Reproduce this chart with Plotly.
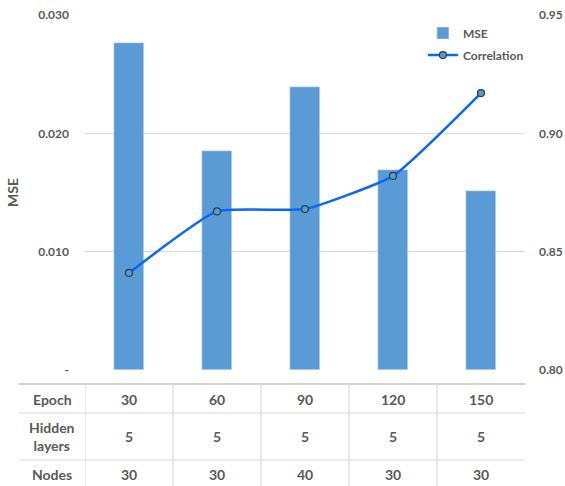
import plotly.graph_objects as go

# Training configurations and results
epochs = [30, 60, 90, 120, 150]
hidden_layers = [5, 5, 5, 5, 5]
nodes = [30, 30, 40, 30, 30]
mse = [0.0276, 0.0185, 0.0239, 0.0169, 0.0151]
correlation = [0.841, 0.867, 0.868, 0.882, 0.917]

mse_ticks = [0, 0.01, 0.02, 0.03]
mse_tick_text = ["-", "0.010", "0.020", "0.030"]
corr_ticks = [0.80, 0.85, 0.90, 0.95]
corr_tick_text = ["0.80", "0.85", "0.90", "0.95"]

FONT = "Lato"
TXT = "#595959"
GRID = "#d9d9d9"
BAR = "#5B9BD5"
LINE = "#0A66F7"

idx = list(range(len(epochs)))

fig = go.Figure()
fig.add_trace(go.Bar(x=idx, y=mse, name="MSE", marker_color=BAR,
                     width=0.33, yaxis="y", legendgroup="a"))
fig.add_trace(go.Scatter(x=idx, y=correlation, name="Correlation", yaxis="y2",
                         legendgroup="b", mode="lines+markers",
                         line=dict(color=LINE, width=2.5, shape="spline", smoothing=0.45),
                         marker=dict(size=7, color=BAR, line=dict(color="#2b3a4a", width=1.2))))

# Table beneath the chart
y_top, y_r1, y_r2, y_bot = -0.0394, -0.1211, -0.2535, -0.33
x_left = -0.15
shapes = []
shapes.append(dict(type="line", xref="paper", yref="paper", x0=x_left, x1=1.0,
                   y0=y_top, y1=y_top, line=dict(color="#a6a6a6", width=1.2)))
for yy in (y_r1, y_r2):
    shapes.append(dict(type="line", xref="paper", yref="paper", x0=x_left, x1=1.0,
                       y0=yy, y1=yy, line=dict(color=GRID, width=1.2)))
for i in range(len(epochs)):
    xv = i - 0.5
    shapes.append(dict(type="line", xref="x", yref="paper", x0=xv, x1=xv,
                       y0=y_top, y1=y_bot, line=dict(color=GRID, width=1.2)))

annotations = []
rows = [("Epoch", epochs, -0.0817), ("Hidden<br>layers", hidden_layers, -0.1887),
        ("Nodes", nodes, -0.293)]
for label, vals, yy in rows:
    annotations.append(dict(text=label, xref="paper", yref="paper", x=-0.075, y=yy,
                            showarrow=False,
                            font=dict(family=FONT, size=14, color=TXT, weight="bold"),
                            xanchor="center", yanchor="middle"))
    for i, v in enumerate(vals):
        annotations.append(dict(text=str(v), xref="x", yref="paper", x=i, y=yy,
                                showarrow=False,
                                font=dict(family=FONT, size=14, color=TXT, weight="bold"),
                                xanchor="center", yanchor="middle"))

fig.update_layout(
    width=565, height=486,
    margin=dict(l=85, r=40, t=15, b=116, autoexpand=False),
    paper_bgcolor="white", plot_bgcolor="white",
    font=dict(family=FONT, color=TXT, size=12, weight="bold"),
    bargap=0,
    showlegend=True,
    legend=dict(x=0.768, y=0.99, xanchor="left", yanchor="top",
                font=dict(family=FONT, size=12, color=TXT, weight="bold"),
                bgcolor="rgba(0,0,0,0)", tracegroupgap=3),
    xaxis=dict(range=[-0.5, 4.5], showticklabels=False, showgrid=False,
               zeroline=False, ticks="", automargin=False),
    yaxis=dict(range=[0, 0.03], tickvals=mse_ticks, ticktext=mse_tick_text,
               showgrid=True, gridcolor=GRID, gridwidth=1, zeroline=False,
               ticklabelstandoff=15, automargin=False,
               tickfont=dict(family=FONT, size=12, color=TXT, weight="bold"),
               title=dict(text="MSE", standoff=16,
                          font=dict(family=FONT, size=14, color=TXT, weight="bold"))),
    yaxis2=dict(range=[0.80, 0.95], tickvals=corr_ticks, ticktext=corr_tick_text,
                overlaying="y", side="right", showgrid=False, zeroline=False,
                ticklabelstandoff=13, automargin=False,
                tickfont=dict(family=FONT, size=12, color=TXT, weight="bold")),
    shapes=shapes,
    annotations=annotations,
)

fig.write_html("out.html")
